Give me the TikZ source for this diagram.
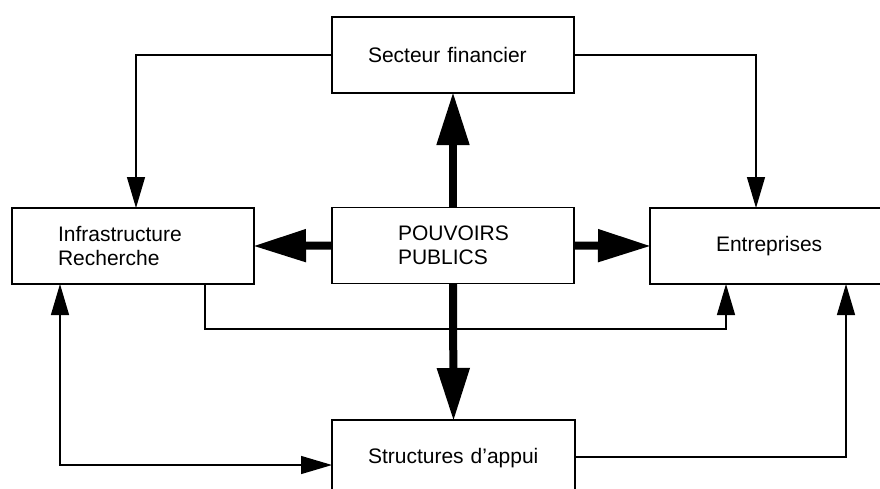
\documentclass[tikz,border=0pt]{standalone}
\usepackage{fontspec}
\setmainfont{Liberation Sans}
\usetikzlibrary{arrows.meta}
\begin{document}
\begin{tikzpicture}[x=1pt,y=-1pt,
  box/.style={draw,line width=1.3pt,minimum height=76pt,align=left,outer sep=0pt,
    font=\fontsize{21}{24}\selectfont,inner ysep=0pt},
  thinarrow/.style={line width=1.3pt,-{Triangle[length=31pt,width=18pt]}},
  thickarrow/.style={line width=8pt,-{Triangle[length=53pt,width=31pt]}}]
\useasboundingbox (0,0) rectangle (880,488);
\node[box,inner xsep=36pt,text width=170pt] (sf) at (453,55) {Secteur financier};
\node[box,inner xsep=46pt,text width=150pt] (ir) at (133,246) {Infrastructure\\Recherche};
\node[box,inner xsep=66pt,text width=110pt] (pp) at (453,245.5) {POUVOIRS\\PUBLICS};
\node[box,inner xsep=66pt,text width=102pt] (en) at (767,246) {Entreprises};
\node[box,inner xsep=36pt,text width=171pt] (sa) at (453.5,458) {Structures d’appui};
% thin connectors
\draw[thinarrow] (sf.west) -| ([xshift=3pt]ir.north);
\draw[thinarrow] (sf.east) -| ([xshift=-11pt]en.north);
\draw[thinarrow] ([xshift=72pt]ir.south) -- ++(0,45) -| ([xshift=-41pt]en.south);
\draw[line width=1.3pt,{Triangle[length=31pt,width=18pt]}-{Triangle[length=31pt,width=18pt]}]
  ([xshift=-73pt]ir.south) |- ([yshift=-7pt]sa.west);
\draw[thinarrow] ([yshift=1pt]sa.east) -| ([xshift=79pt]en.south);
% thick arrows
\draw[thickarrow] (pp.north) -- ([yshift=1pt]sf.south);
\draw[thickarrow] (pp.west) -- ([xshift=-1pt]ir.east);
\draw[thickarrow] (pp.east) -- ([xshift=1pt]en.west);
\draw[thickarrow] (pp.south) -- ([yshift=-1pt]sa.north);
\end{tikzpicture}
\end{document}
